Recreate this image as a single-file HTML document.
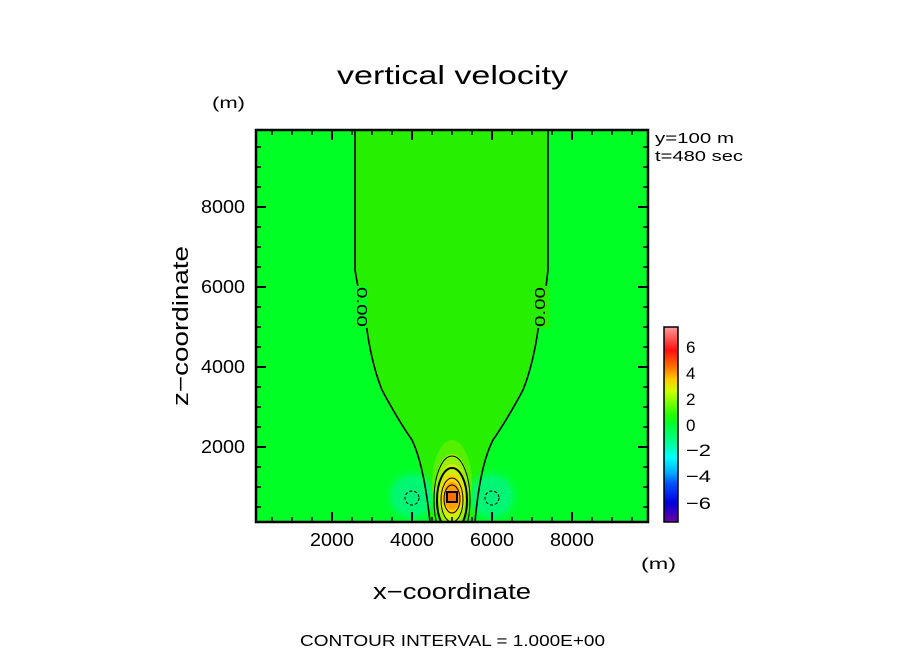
<!DOCTYPE html>
<html><head><meta charset="utf-8"><style>
html,body{margin:0;padding:0;background:#fff;}
svg text{font-family:"Liberation Sans",sans-serif;fill:#000;}
</style></head><body>
<svg width="904" height="654" viewBox="0 0 904 654" xmlns="http://www.w3.org/2000/svg">
<defs>
<clipPath id="c"><rect x="256" y="130" width="392" height="392"/></clipPath>
<linearGradient id="cb" x1="0" y1="0" x2="0" y2="1">
<stop offset="0" stop-color="#ff9a9a"/>
<stop offset="0.07" stop-color="#ff4848"/>
<stop offset="0.12" stop-color="#ff1010"/>
<stop offset="0.2" stop-color="#ff6a00"/>
<stop offset="0.27" stop-color="#ffcc00"/>
<stop offset="0.33" stop-color="#ccff00"/>
<stop offset="0.45" stop-color="#22ff00"/>
<stop offset="0.5" stop-color="#00ff30"/>
<stop offset="0.6" stop-color="#00ffa0"/>
<stop offset="0.67" stop-color="#00ffff"/>
<stop offset="0.75" stop-color="#00aaff"/>
<stop offset="0.8" stop-color="#0055ff"/>
<stop offset="0.9" stop-color="#0000dd"/>
<stop offset="1" stop-color="#6a00a0"/>
</linearGradient>
<radialGradient id="neg"><stop offset="0" stop-color="#00f07a"/><stop offset="0.6" stop-color="#00f870"/><stop offset="1" stop-color="#00ff30" stop-opacity="0"/></radialGradient>
</defs>
<g clip-path="url(#c)">
<rect x="256" y="130" width="392" height="392" fill="#00ff24"/>
<path d="M355,130 L355,270 Q360,300 367,330 Q372,365 382,390 Q398,420 412,440 Q424,465 430,522 L475,522 Q480,465 493,440 Q507,420 523,390 Q533,365 538,330 Q545,300 548,270 L548,130 Z" fill="#26f000"/>
<circle cx="412" cy="496" r="30" fill="url(#neg)"/>
<circle cx="492" cy="496" r="30" fill="url(#neg)"/>
<ellipse cx="452" cy="485" rx="20" ry="45" fill="#55f000"/>
<ellipse cx="452" cy="490" rx="17" ry="36" fill="#99f000"/>
<ellipse cx="452" cy="492" rx="14" ry="28" fill="#ccf000"/>
<ellipse cx="452" cy="494" rx="11" ry="20" fill="#ffd000"/>
<ellipse cx="452" cy="496" rx="8" ry="14" fill="#ffa000"/>
<rect x="447" y="492" width="10" height="10" fill="#ff7000" stroke="#000" stroke-width="2"/>
<path d="M355,130 L355,270 Q360,300 367,330 Q372,365 382,390 Q398,420 412,440 Q424,465 430,522" fill="none" stroke="#000" stroke-width="1.6"/>
<path d="M548,130 L548,270 Q545,300 538,330 Q533,365 523,390 Q507,420 493,440 Q480,465 475,522" fill="none" stroke="#000" stroke-width="1.6"/>
<ellipse cx="452" cy="500" rx="18" ry="44" fill="none" stroke="#000" stroke-width="1"/>
<ellipse cx="452" cy="500" rx="15" ry="32" fill="none" stroke="#000" stroke-width="2"/>
<ellipse cx="452" cy="500" rx="11" ry="22" fill="none" stroke="#000" stroke-width="1"/>
<ellipse cx="452" cy="499" rx="8" ry="14" fill="none" stroke="#000" stroke-width="1"/>
<circle cx="412" cy="498" r="7" fill="none" stroke="#000" stroke-dasharray="3,2" stroke-width="1"/>
<circle cx="492" cy="498" r="7" fill="none" stroke="#000" stroke-dasharray="3,2" stroke-width="1"/>
<line x1="412" y1="512" x2="412" y2="522" stroke="#000"/>
<line x1="492" y1="512" x2="492" y2="522" stroke="#000"/>
<rect x="353" y="286" width="14" height="42" fill="#00ff24"/>
<rect x="535" y="286" width="14" height="42" fill="#26f000"/>
</g>
<text transform="translate(361,307) rotate(90)" font-size="15" text-anchor="middle" dominant-baseline="middle" textLength="40" lengthAdjust="spacingAndGlyphs">0.00</text>
<text transform="translate(541,307) rotate(-90)" font-size="15" text-anchor="middle" dominant-baseline="middle" textLength="40" lengthAdjust="spacingAndGlyphs">0.00</text>
<rect x="256" y="130" width="392" height="392" fill="none" stroke="#000" stroke-width="2.5"/>
<g stroke="#000" stroke-width="1.5">
<path d="M272,130v5M292,130v5M312,130v5M352,130v5M372,130v5M392,130v5M432,130v5M452,130v5M472,130v5M512,130v5M532,130v5M552,130v5M592,130v5M612,130v5M632,130v5"/>
<path d="M272,522v-5M292,522v-5M312,522v-5M352,522v-5M372,522v-5M392,522v-5M432,522v-5M452,522v-5M472,522v-5M512,522v-5M532,522v-5M552,522v-5M592,522v-5M612,522v-5M632,522v-5"/>
<path d="M332,522v-10M412,522v-10M492,522v-10M572,522v-10M332,130v10M412,130v10M492,130v10M572,130v10" stroke-width="2"/>
<path d="M256,147h5M256,167h5M256,187h5M256,227h5M256,247h5M256,267h5M256,307h5M256,327h5M256,347h5M256,387h5M256,407h5M256,427h5M256,467h5M256,487h5M256,507h5"/>
<path d="M648,147h-5M648,167h-5M648,187h-5M648,227h-5M648,247h-5M648,267h-5M648,307h-5M648,327h-5M648,347h-5M648,387h-5M648,407h-5M648,427h-5M648,467h-5M648,487h-5M648,507h-5"/>
<path d="M256,207h10M256,287h10M256,367h10M256,447h10M648,207h-10M648,287h-10M648,367h-10M648,447h-10" stroke-width="2"/>
</g>
<g font-size="18" text-anchor="middle">
<text x="332" y="546" textLength="44" lengthAdjust="spacingAndGlyphs">2000</text><text x="412" y="546" textLength="44" lengthAdjust="spacingAndGlyphs">4000</text><text x="492" y="546" textLength="44" lengthAdjust="spacingAndGlyphs">6000</text><text x="572" y="546" textLength="44" lengthAdjust="spacingAndGlyphs">8000</text>
</g>
<g font-size="18">
<text x="201" y="213" textLength="44" lengthAdjust="spacingAndGlyphs">8000</text><text x="201" y="293" textLength="44" lengthAdjust="spacingAndGlyphs">6000</text><text x="201" y="373" textLength="44" lengthAdjust="spacingAndGlyphs">4000</text><text x="201" y="453" textLength="44" lengthAdjust="spacingAndGlyphs">2000</text>
</g>
<text x="337" y="84" font-size="26" textLength="231" lengthAdjust="spacingAndGlyphs">vertical velocity</text>
<text x="212" y="108" font-size="16" textLength="33" lengthAdjust="spacingAndGlyphs">(m)</text>
<text x="641" y="569" font-size="16" textLength="35" lengthAdjust="spacingAndGlyphs">(m)</text>
<text x="655" y="143" font-size="15" textLength="79" lengthAdjust="spacingAndGlyphs">y=100  m</text>
<text x="655" y="161" font-size="15" textLength="88" lengthAdjust="spacingAndGlyphs">t=480  sec</text>
<text x="373" y="599" font-size="22" textLength="158" lengthAdjust="spacingAndGlyphs">x−coordinate</text>
<text transform="translate(188,326) rotate(-90)" font-size="22" text-anchor="middle" textLength="160" lengthAdjust="spacingAndGlyphs">z−coordinate</text>
<text x="300" y="646" font-size="16" textLength="305" lengthAdjust="spacingAndGlyphs">CONTOUR INTERVAL = 1.000E+00</text>
<rect x="664" y="327" width="14" height="195" fill="url(#cb)" stroke="#000" stroke-width="1.5"/>
<g font-size="17">
<text x="686" y="353">6</text><text x="686" y="379">4</text><text x="686" y="405">2</text><text x="686" y="431">0</text>
<text x="686" y="456" textLength="25" lengthAdjust="spacingAndGlyphs">−2</text><text x="686" y="482" textLength="25" lengthAdjust="spacingAndGlyphs">−4</text><text x="686" y="509" textLength="25" lengthAdjust="spacingAndGlyphs">−6</text>
</g>
</svg>
</body></html>
